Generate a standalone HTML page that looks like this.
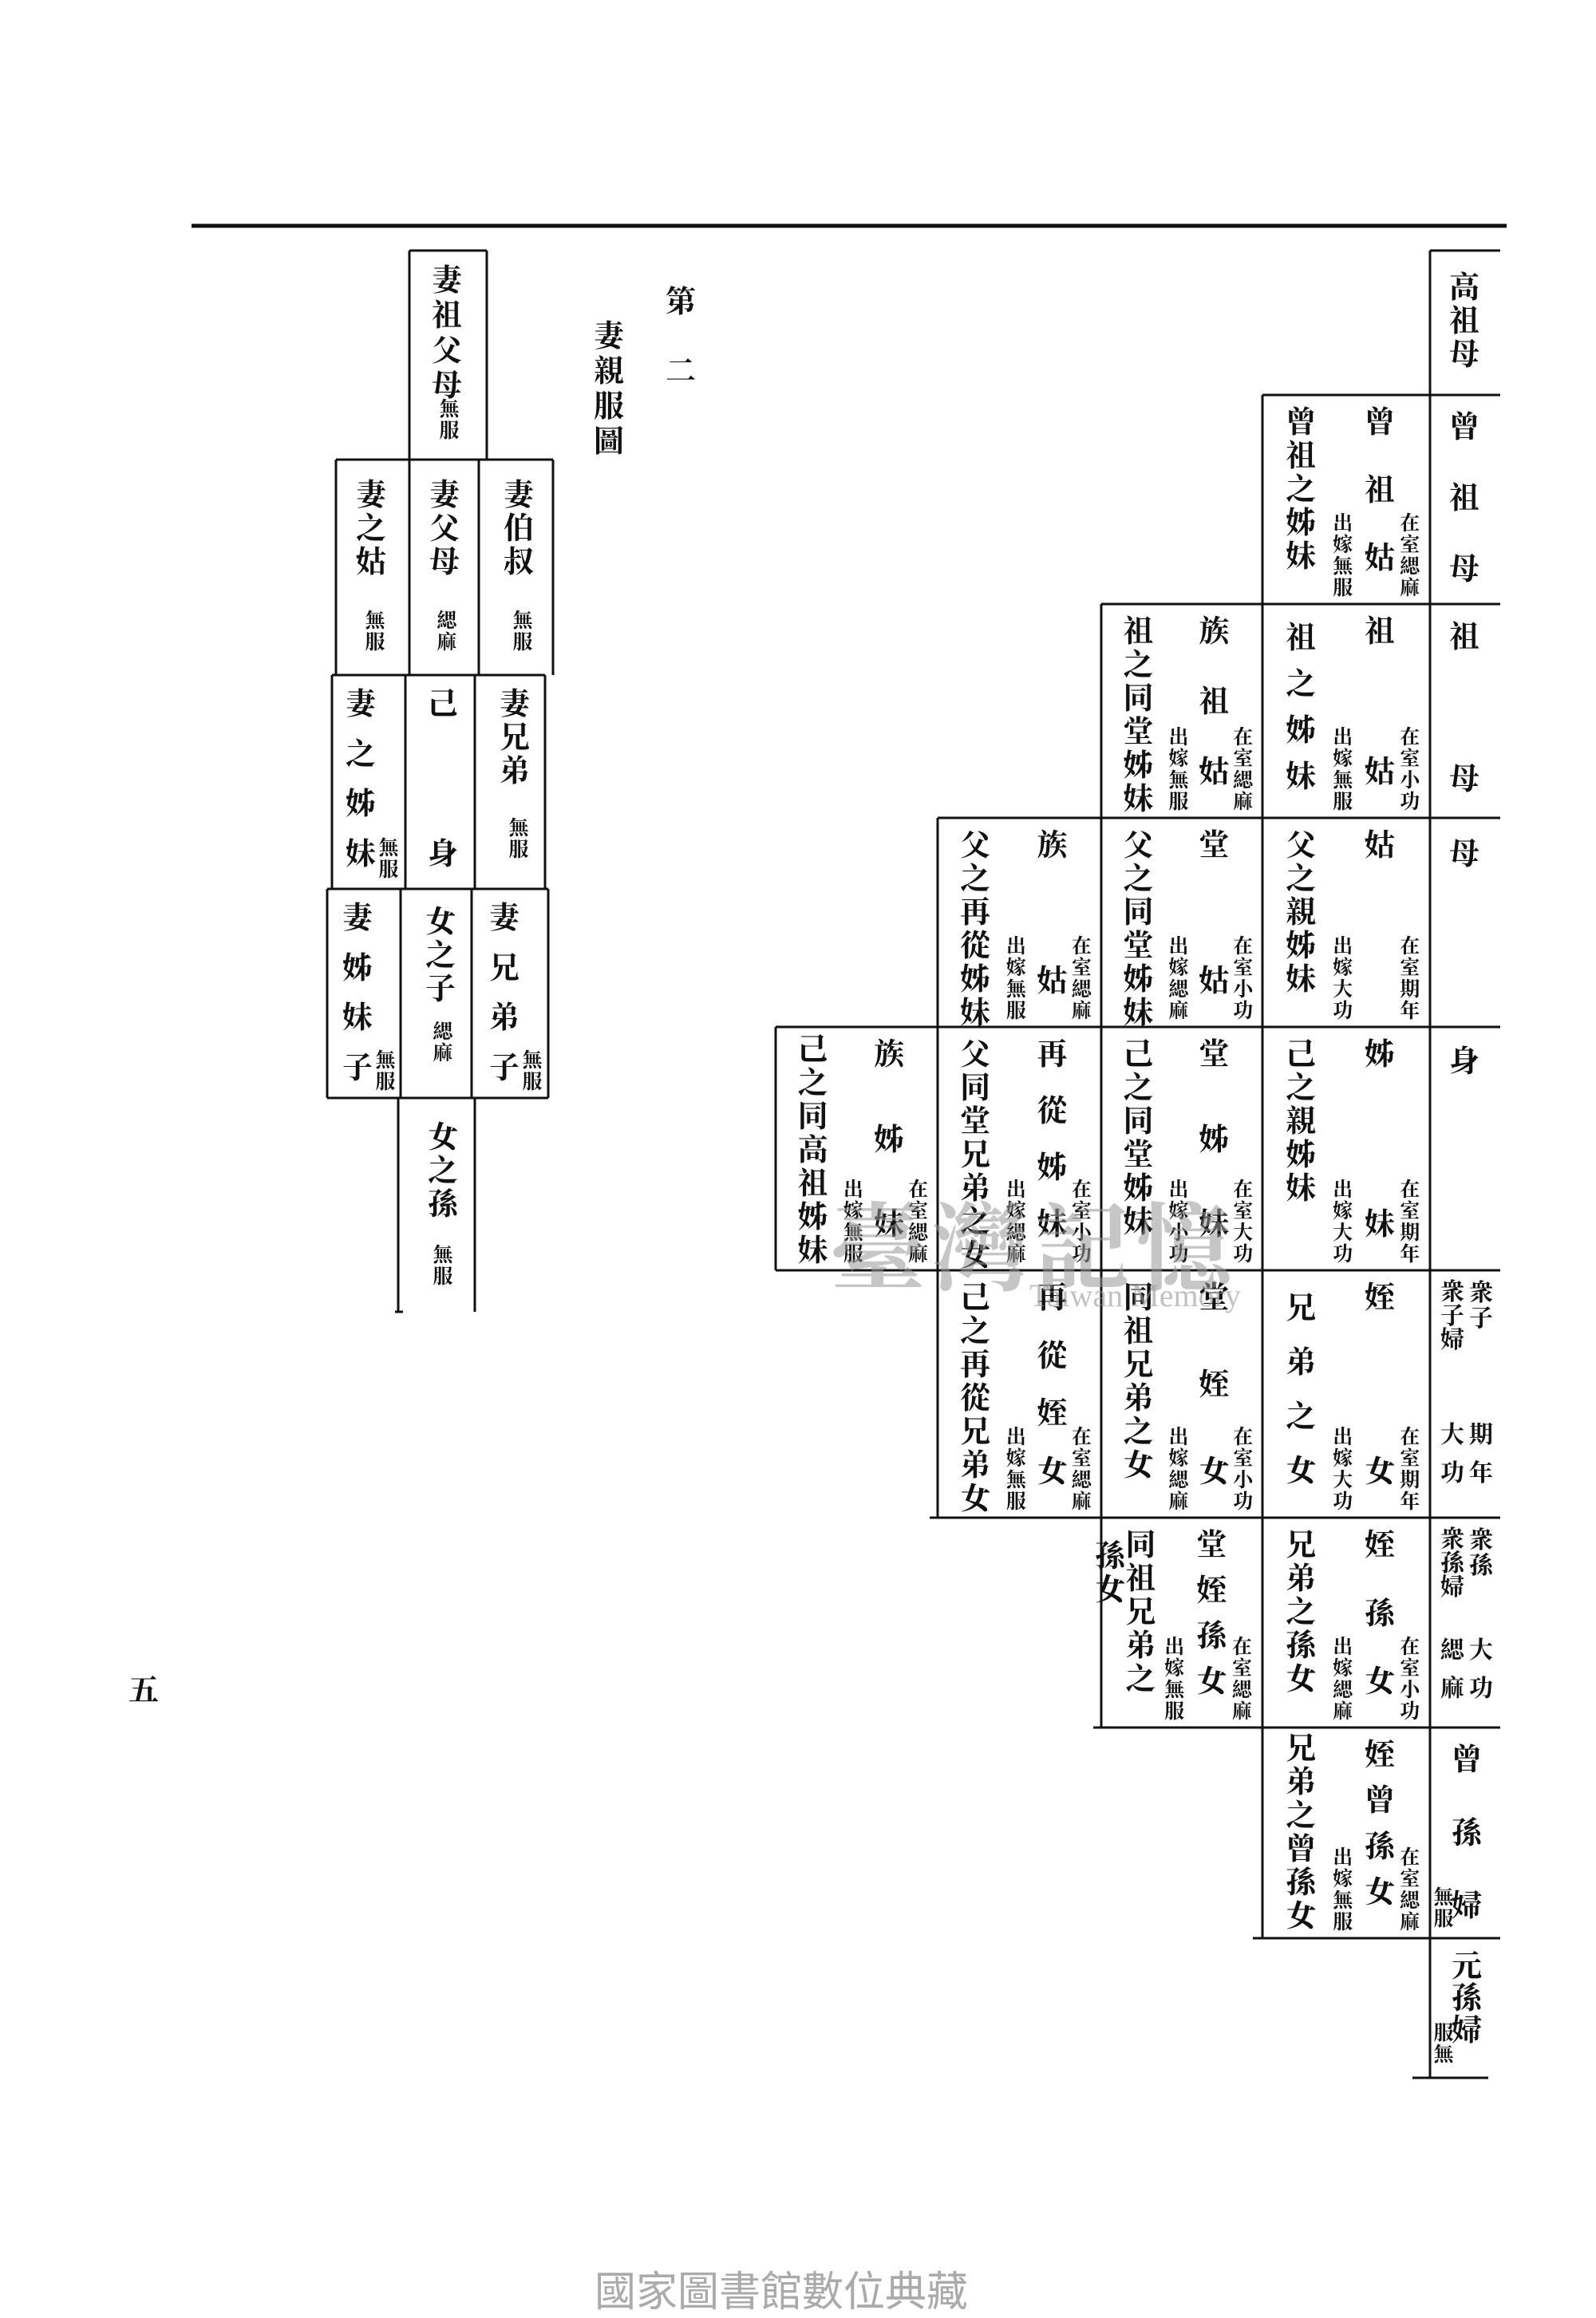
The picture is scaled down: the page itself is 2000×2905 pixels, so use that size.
<!DOCTYPE html>
<html><head><meta charset="utf-8">
<style>
html,body{margin:0;padding:0;background:#fff;}
body{width:2000px;height:2900px;position:relative;overflow:hidden;font-family:"Liberation Serif","Noto Serif CJK TC","Noto Serif CJK SC",serif;color:#111;font-weight:bold;}
.abs{position:absolute;}
.cell{position:absolute;}
.desc{position:absolute;left:23%;margin-left:-20px;top:14px;width:40px;font-size:38px;line-height:42px;text-align:center;}
.name{position:absolute;left:70%;margin-left:-20px;top:14px;bottom:36px;width:40px;font-size:38px;line-height:42px;display:flex;flex-direction:column;justify-content:space-between;align-items:center;}
.ann{position:absolute;bottom:6px;width:26px;font-size:25px;line-height:27px;text-align:center;}
.a1{left:88%;margin-left:-13px;}
.a2{left:48%;margin-left:-13px;}
.v{position:absolute;width:40px;font-size:38px;line-height:42px;text-align:center;}
.vs{position:absolute;width:26px;font-size:25px;line-height:27px;text-align:center;}
.sp{display:flex;flex-direction:column;justify-content:space-between;align-items:center;}
</style></head><body>
<svg class="abs" style="left:0;top:0" width="2000" height="2900">
<g stroke="#111" stroke-width="3" fill="none">
<line x1="240" y1="283" x2="1888" y2="283" stroke-width="5"/>
<!-- right grid verticals -->
<line x1="1792" y1="314" x2="1792" y2="2604"/>
<line x1="1582" y1="495" x2="1582" y2="2429"/>
<line x1="1380" y1="757" x2="1380" y2="2165"/>
<line x1="1175" y1="1025" x2="1175" y2="1902"/>
<line x1="972" y1="1287" x2="972" y2="1592"/>
<!-- right grid horizontals -->
<line x1="1792" y1="314" x2="1880" y2="314"/>
<line x1="1582" y1="495" x2="1880" y2="495"/>
<line x1="1380" y1="757" x2="1880" y2="757"/>
<line x1="1175" y1="1025" x2="1880" y2="1025"/>
<line x1="972" y1="1287" x2="1880" y2="1287"/>
<line x1="972" y1="1592" x2="1880" y2="1592"/>
<line x1="1165" y1="1902" x2="1880" y2="1902"/>
<line x1="1370" y1="2165" x2="1880" y2="2165"/>
<line x1="1570" y1="2429" x2="1880" y2="2429"/>
<line x1="1770" y1="2604" x2="1865" y2="2604"/>
<!-- left grid -->
<line x1="513" y1="314" x2="610" y2="314"/>
<line x1="513" y1="314" x2="513" y2="576"/>
<line x1="610" y1="314" x2="610" y2="576"/>
<line x1="421" y1="576" x2="693" y2="576"/>
<line x1="421" y1="576" x2="421" y2="846"/>
<line x1="513" y1="576" x2="513" y2="846"/>
<line x1="600" y1="576" x2="600" y2="846"/>
<line x1="693" y1="576" x2="693" y2="846"/>
<line x1="416" y1="846" x2="683" y2="846"/>
<line x1="416" y1="846" x2="416" y2="1114"/>
<line x1="508" y1="846" x2="508" y2="1114"/>
<line x1="595" y1="846" x2="595" y2="1114"/>
<line x1="683" y1="846" x2="683" y2="1114"/>
<line x1="410" y1="1114" x2="687" y2="1114"/>
<line x1="410" y1="1114" x2="410" y2="1376"/>
<line x1="502" y1="1114" x2="502" y2="1376"/>
<line x1="591" y1="1114" x2="591" y2="1376"/>
<line x1="687" y1="1114" x2="687" y2="1376"/>
<line x1="410" y1="1376" x2="687" y2="1376"/>
<line x1="499" y1="1376" x2="499" y2="1644"/>
<line x1="595" y1="1376" x2="595" y2="1644"/>
<line x1="495" y1="1644" x2="505" y2="1644"/>
</g>
</svg>

<!-- title -->
<div class="v" style="left:833px;top:358px;">第</div>
<div class="v" style="left:833px;top:445px;">二</div>
<div class="v" style="left:743px;top:400px;line-height:44px;">妻親服圖</div>
<div class="v" style="left:160px;top:2098px;">五</div>

<!-- left grid text -->
<div class="v" style="left:540px;top:330px;line-height:44px;">妻祖父母</div>
<div class="vs" style="left:550px;top:500px;">無服</div>
<div class="v" style="left:445px;top:600px;">妻之姑</div>
<div class="vs" style="left:457px;top:765px;">無服</div>
<div class="v" style="left:537px;top:600px;">妻父母</div>
<div class="vs" style="left:547px;top:765px;">緦麻</div>
<div class="v" style="left:630px;top:600px;">妻伯叔</div>
<div class="vs" style="left:642px;top:765px;">無服</div>
<div class="v sp" style="left:432px;top:862px;height:230px;"><span>妻</span><span>之</span><span>姊</span><span>妹</span></div>
<div class="vs" style="left:474px;top:1050px;">無服</div>
<div class="v sp" style="left:535px;top:862px;height:230px;"><span>己</span><span>身</span></div>
<div class="v" style="left:625px;top:862px;">妻兄弟</div>
<div class="vs" style="left:637px;top:1025px;">無服</div>
<div class="v sp" style="left:428px;top:1130px;height:230px;"><span>妻</span><span>姊</span><span>妹</span><span>子</span></div>
<div class="vs" style="left:470px;top:1316px;">無服</div>
<div class="v" style="left:532px;top:1135px;">女之子</div>
<div class="vs" style="left:542px;top:1280px;">緦麻</div>
<div class="v sp" style="left:612px;top:1130px;height:230px;"><span>妻</span><span>兄</span><span>弟</span><span>子</span></div>
<div class="vs" style="left:654px;top:1316px;">無服</div>
<div class="v" style="left:535px;top:1405px;">女之孫</div>
<div class="vs" style="left:542px;top:1560px;">無服</div>

<!-- right grid column 0 -->
<div class="v" style="left:1815px;top:340px;">高祖母</div>
<div class="v sp" style="left:1815px;top:515px;height:220px;"><span>曾</span><span>祖</span><span>母</span></div>
<div class="v sp" style="left:1815px;top:778px;height:220px;"><span>祖</span><span>母</span></div>
<div class="v" style="left:1815px;top:1050px;">母</div>
<div class="v" style="left:1815px;top:1310px;">身</div>
<div class="vs" style="left:1840px;top:1605px;width:32px;font-size:30px;line-height:32px;">衆子</div>
<div class="vs" style="left:1804px;top:1605px;width:32px;font-size:30px;line-height:30px;">衆子婦</div>
<div class="vs" style="left:1840px;top:1775px;width:32px;font-size:30px;line-height:48px;">期年</div>
<div class="vs" style="left:1804px;top:1775px;width:32px;font-size:30px;line-height:48px;">大功</div>
<div class="vs" style="left:1840px;top:1915px;width:32px;font-size:30px;line-height:32px;">衆孫</div>
<div class="vs" style="left:1804px;top:1915px;width:32px;font-size:30px;line-height:30px;">衆孫婦</div>
<div class="vs" style="left:1840px;top:2045px;width:32px;font-size:30px;line-height:48px;">大功</div>
<div class="vs" style="left:1804px;top:2045px;width:32px;font-size:30px;line-height:48px;">緦麻</div>
<div class="v sp" style="left:1818px;top:2185px;height:225px;"><span>曾</span><span>孫</span><span>婦</span></div>
<div class="vs" style="left:1796px;top:2365px;">無服</div>
<div class="v" style="left:1818px;top:2445px;line-height:40px;">元孫婦</div>
<div class="vs" style="left:1796px;top:2535px;">服無</div>

<!-- right grid cells -->
<div class="cell" style="left:1582px;top:495px;width:210px;height:262px;"><div class="desc">曾祖之姊妹</div><div class="name"><span>曾</span><span>祖</span><span>姑</span></div><div class="ann a1">在室緦麻</div><div class="ann a2">出嫁無服</div></div>
<div class="cell" style="left:1582px;top:757px;width:210px;height:268px;"><div class="desc" style="line-height:58px;">祖之姊妹</div><div class="name"><span>祖</span><span>姑</span></div><div class="ann a1">在室小功</div><div class="ann a2">出嫁無服</div></div>
<div class="cell" style="left:1380px;top:757px;width:202px;height:268px;"><div class="desc">祖之同堂姊妹</div><div class="name"><span>族</span><span>祖</span><span>姑</span></div><div class="ann a1">在室緦麻</div><div class="ann a2">出嫁無服</div></div>
<div class="cell" style="left:1582px;top:1025px;width:210px;height:262px;"><div class="desc">父之親姊妹</div><div class="name"><span>姑</span></div><div class="ann a1">在室期年</div><div class="ann a2">出嫁大功</div></div>
<div class="cell" style="left:1380px;top:1025px;width:202px;height:262px;"><div class="desc">父之同堂姊妹</div><div class="name"><span>堂</span><span>姑</span></div><div class="ann a1">在室小功</div><div class="ann a2">出嫁緦麻</div></div>
<div class="cell" style="left:1175px;top:1025px;width:205px;height:262px;"><div class="desc">父之再從姊妹</div><div class="name"><span>族</span><span>姑</span></div><div class="ann a1">在室緦麻</div><div class="ann a2">出嫁無服</div></div>
<div class="cell" style="left:1582px;top:1287px;width:210px;height:305px;"><div class="desc">己之親姊妹</div><div class="name"><span>姊</span><span>妹</span></div><div class="ann a1">在室期年</div><div class="ann a2">出嫁大功</div></div>
<div class="cell" style="left:1380px;top:1287px;width:202px;height:305px;"><div class="desc">己之同堂姊妹</div><div class="name"><span>堂</span><span>姊</span><span>妹</span></div><div class="ann a1">在室大功</div><div class="ann a2">出嫁小功</div></div>
<div class="cell" style="left:1175px;top:1287px;width:205px;height:305px;"><div class="desc">父同堂兄弟之女</div><div class="name"><span>再</span><span>從</span><span>姊</span><span>妹</span></div><div class="ann a1">在室小功</div><div class="ann a2">出嫁緦麻</div></div>
<div class="cell" style="left:972px;top:1287px;width:203px;height:305px;"><div class="desc" style="top:8px;">己之同高祖姊妹</div><div class="name"><span>族</span><span>姊</span><span>妹</span></div><div class="ann a1">在室緦麻</div><div class="ann a2">出嫁無服</div></div>
<div class="cell" style="left:1582px;top:1592px;width:210px;height:310px;"><div class="desc" style="line-height:68px;">兄弟之女</div><div class="name"><span>姪</span><span>女</span></div><div class="ann a1">在室期年</div><div class="ann a2">出嫁大功</div></div>
<div class="cell" style="left:1380px;top:1592px;width:202px;height:310px;"><div class="desc">同祖兄弟之女</div><div class="name"><span>堂</span><span>姪</span><span>女</span></div><div class="ann a1">在室小功</div><div class="ann a2">出嫁緦麻</div></div>
<div class="cell" style="left:1175px;top:1592px;width:205px;height:310px;"><div class="desc">己之再從兄弟女</div><div class="name"><span>再</span><span>從</span><span>姪</span><span>女</span></div><div class="ann a1">在室緦麻</div><div class="ann a2">出嫁無服</div></div>
<div class="cell" style="left:1582px;top:1902px;width:210px;height:263px;"><div class="desc">兄弟之孫女</div><div class="name"><span>姪</span><span>孫</span><span>女</span></div><div class="ann a1">在室小功</div><div class="ann a2">出嫁緦麻</div></div>
<div class="cell" style="left:1370px;top:1902px;width:212px;height:263px;"><div class="desc" style="left:28%;">同祖兄弟之</div><div class="desc" style="left:10%;top:28px;">孫女</div><div class="name"><span>堂</span><span>姪</span><span>孫</span><span>女</span></div><div class="ann a1">在室緦麻</div><div class="ann a2">出嫁無服</div></div>
<div class="cell" style="left:1582px;top:2165px;width:210px;height:264px;"><div class="desc" style="top:6px;">兄弟之曾孫女</div><div class="name"><span>姪</span><span>曾</span><span>孫</span><span>女</span></div><div class="ann a1">在室緦麻</div><div class="ann a2">出嫁無服</div></div>

<!-- watermark -->
<div class="abs" style="left:1040px;top:1470px;font-size:120px;color:#999;opacity:0.55;font-family:'Noto Serif CJK TC',serif;letter-spacing:8px;">臺灣記憶</div>
<div class="abs" style="left:1290px;top:1600px;font-size:40px;color:#999;opacity:0.6;font-family:'Liberation Serif',serif;font-weight:normal;">Taiwan Memory</div>
<div class="abs" style="left:745px;top:2830px;font-size:52px;color:#aaa;font-family:'Liberation Sans','Noto Sans CJK TC',sans-serif;font-weight:normal;">國家圖書館數位典藏</div>
</body></html>
